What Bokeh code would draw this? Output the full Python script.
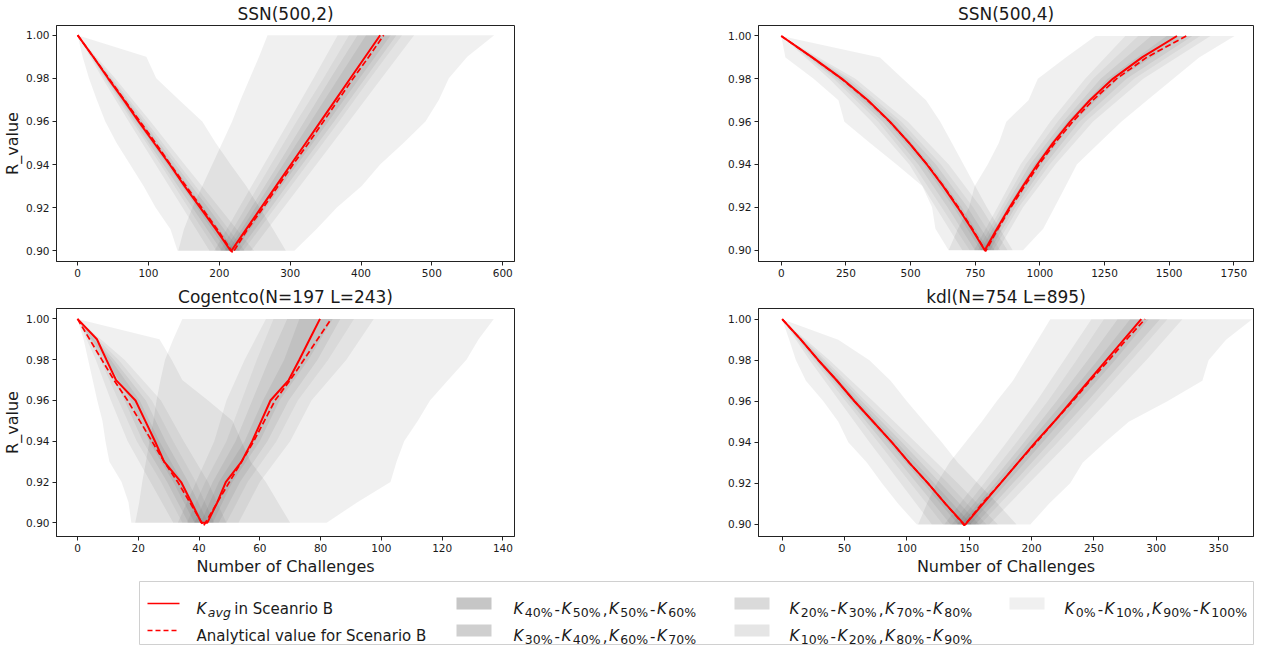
from bokeh.plotting import figure
from bokeh.layouts import column, row
from bokeh.models import Range1d, FixedTicker, PrintfTickFormatter
from bokeh.core.properties import value
from bokeh.embed import file_html
from bokeh.resources import INLINE

# ---------------------------------------------------------------- data
LEVELS_DOWN = [1.00, 0.99, 0.98, 0.97, 0.96, 0.95, 0.94, 0.93, 0.92, 0.91, 0.90]
LEVELS_UP = [0.90, 0.91, 0.92, 0.93, 0.94, 0.95, 0.96, 0.97, 0.98, 0.99, 1.00]
COARSE_DOWN = [1.00, 0.98, 0.96, 0.94, 0.92, 0.90]
COARSE_UP = [0.90, 0.92, 0.94, 0.96, 0.98, 1.00]
Y_TICKS = [0.90, 0.92, 0.94, 0.96, 0.98, 1.00]

TITLES = ["SSN(500,2)", "SSN(500,4)", "Cogentco(N=197 L=243)", "kdl(N=754 L=895)"]
X_LABEL = "Number of Challenges"
Y_LABEL = "R_value"

# ---- SSN(500,2)
A_X_TICKS = [0, 100, 200, 300, 400, 500, 600]
A_AVG_DOWN = [0, 22, 43, 65, 86, 108, 130, 151, 173, 195, 216]
A_AVG_UP = [217, 238, 259, 280, 301, 322, 343, 364, 385, 406, 427]
A_ANA_X = [0, 22, 44, 66, 88, 110, 131, 153, 175, 197, 219, 240, 262, 283, 304, 326, 347, 368, 389, 411, 432]
A_ANA_Y = [1.00, 0.99, 0.98, 0.97, 0.96, 0.95, 0.94, 0.93, 0.92, 0.91, 0.899,
           0.91, 0.92, 0.93, 0.94, 0.95, 0.96, 0.97, 0.98, 0.99, 1.00]
A_DOWN_MIN = [0, 7, 16, 27, 39, 55, 74, 93, 110, 131, 141]
A_DOWN_MAX = [0, 97, 111, 143, 176, 195, 216, 238, 257, 276, 294]
A_UP_MIN = [142, 150, 162, 176, 190, 204, 218, 230, 243, 256, 268]
A_UP_MAX = [306, 337, 366, 401, 427, 460, 491, 510, 524, 550, 588]
A_DOWN_Q = [  # K10 K20 K30 K40 | K60 K70 K80 K90  (at COARSE_DOWN)
    [0, 35, 72, 110, 148, 186],
    [0, 38, 77, 117, 156, 196],
    [0, 40, 80, 121, 162, 203],
    [0, 41, 83, 126, 168, 210],
    [0, 45, 90, 134, 178, 222],
    [0, 47, 93, 138, 184, 229],
    [0, 49, 97, 143, 190, 236],
    [0, 53, 103, 151, 200, 249],
]
A_UP_Q = [  # at COARSE_UP
    [193, 228, 263, 298, 333, 367],
    [201, 237, 273, 309, 347, 383],
    [207, 245, 283, 320, 357, 395],
    [212, 251, 290, 329, 368, 407],
    [222, 266, 310, 354, 398, 442],
    [228, 273, 317, 362, 406, 450],
    [234, 279, 324, 369, 413, 458],
    [245, 291, 337, 383, 429, 475],
]

# ---- SSN(500,4)
B_X_TICKS = [0, 250, 500, 750, 1000, 1250, 1500, 1750]
B_AVG_DOWN = [0, 120, 235, 335, 420, 495, 563, 625, 682, 736, 787]
B_AVG_UP = [787, 834, 883, 935, 990, 1050, 1117, 1193, 1282, 1395, 1530]
B_ANA_X = [0, 119, 233, 333, 419, 495, 564, 627, 685, 739, 790, 838, 888, 941, 997, 1058, 1127, 1205, 1296, 1413, 1566]
B_ANA_Y = [1.00, 0.99, 0.98, 0.97, 0.96, 0.95, 0.94, 0.93, 0.92, 0.91, 0.8995,
           0.91, 0.92, 0.93, 0.94, 0.95, 0.96, 0.97, 0.98, 0.99, 1.00]
B_DOWN_MIN = [0, 16, 125, 221, 244, 343, 446, 545, 583, 596, 647]
B_DOWN_MAX = [0, 382, 470, 560, 615, 660, 705, 750, 795, 845, 895]
B_UP_MIN = [647, 683, 726, 748, 798, 841, 870, 956, 992, 1100, 1215]
B_UP_MAX = [935, 1013, 1057, 1100, 1143, 1229, 1315, 1415, 1516, 1616, 1753]
B_DOWN_Q = [
    [0, 185, 350, 495, 597, 700],
    [0, 203, 375, 510, 620, 728],
    [0, 215, 392, 530, 643, 749],
    [0, 226, 408, 550, 666, 771],
    [0, 244, 432, 578, 698, 803],
    [0, 255, 448, 598, 720, 825],
    [0, 268, 465, 618, 742, 847],
    [0, 287, 490, 648, 772, 875],
]
B_UP_Q = [
    [745, 836, 925, 1040, 1175, 1330],
    [760, 851, 945, 1068, 1205, 1380],
    [770, 864, 962, 1090, 1235, 1430],
    [780, 875, 978, 1105, 1262, 1490],
    [798, 893, 1004, 1132, 1305, 1560],
    [808, 905, 1020, 1152, 1335, 1590],
    [820, 918, 1038, 1176, 1365, 1620],
    [838, 935, 1060, 1205, 1400, 1660],
]

# ---- Cogentco(N=197 L=243)
C_X_TICKS = [0, 20, 40, 60, 80, 100, 120, 140]
C_AVG_DOWN = [0, 6.4, 9.5, 12.7, 19.1, 22.3, 25.5, 28.5, 34.1, 37.5, 40.8]
C_AVG_UP = [42.7, 46, 48.8, 54, 57.5, 60.5, 63.5, 69.5, 73, 76.4, 79.8]
C_ANA_X = [0, 4, 8, 12, 16.5, 20.5, 24.5, 28.5, 33, 37, 41.5, 46, 50, 54, 58, 61.5, 65, 70, 74.5, 79, 83.5]
C_ANA_Y = [1.00, 0.99, 0.98, 0.97, 0.96, 0.95, 0.94, 0.93, 0.92, 0.91, 0.8985,
           0.91, 0.92, 0.93, 0.94, 0.95, 0.96, 0.97, 0.98, 0.99, 1.00]
C_DOWN_MIN = [0, 2, 3.5, 5, 6.5, 8.2, 9.2, 10.5, 14.5, 16.8, 17.7]
C_DOWN_MAX = [0, 27, 31, 34.5, 43, 51, 54, 57, 62, 66, 70]
C_UP_MIN = [19, 20.3, 21.3, 22.5, 23.7, 25, 26, 27.3, 28.8, 31.5, 34.5]
C_UP_MAX = [82, 92, 103, 105, 107.5, 112, 116, 122, 128, 132, 137]
C_DOWN_Q = [
    [0, 6, 11, 16.5, 24, 31.5],
    [0, 7.5, 13.5, 19.5, 27.5, 34.5],
    [0, 8.5, 15.5, 21.5, 29.5, 36.5],
    [0, 9.5, 17.5, 23.5, 31.5, 38.5],
    [0, 11, 20.5, 27, 34.5, 41.5],
    [0, 12, 22.5, 29, 36.5, 43],
    [0, 13.5, 24.5, 31.5, 39, 45],
    [0, 15.5, 27.5, 35, 43, 49],
]
C_UP_Q = [
    [33, 39, 45, 49, 55, 62],
    [36, 42, 49, 54, 59, 64.5],
    [38.5, 44.5, 52, 57.5, 63, 69],
    [40.5, 46.5, 55, 61, 68, 73],
    [44.5, 51, 60, 66.5, 76, 84],
    [46.5, 53.5, 62.5, 69.5, 79, 86.5],
    [49, 56, 65.5, 72.5, 82.5, 91],
    [53, 60, 70, 77, 88.5, 97.5],
]

# ---- kdl(N=754 L=895)
D_X_TICKS = [0, 50, 100, 150, 200, 250, 300, 350]
D_AVG_DOWN = [0, 15, 29, 44, 58, 73, 88, 102, 117, 131, 146]
D_AVG_UP = [147, 161, 175, 189, 203, 218, 232, 246, 260, 274, 288]
D_ANA_X = [0, 15, 29, 44, 58, 73, 88, 102, 117, 131, 146, 160, 175, 189, 204, 218, 233, 247, 262, 276, 291]
D_ANA_Y = [1.00, 0.99, 0.98, 0.97, 0.96, 0.95, 0.94, 0.93, 0.92, 0.91, 0.8995,
           0.91, 0.92, 0.93, 0.94, 0.95, 0.96, 0.97, 0.98, 0.99, 1.00]
D_DOWN_MIN = [0, 5.6, 11, 19, 33, 45, 53, 68, 80, 93, 108]
D_DOWN_MAX = [0, 45, 70, 87, 100, 114, 128, 141, 157, 173, 188]
D_UP_MIN = [109, 116, 124, 134, 147, 160, 172, 185, 195, 205, 215]
D_UP_MAX = [199, 214, 231, 241, 259, 278, 309, 337, 342, 356, 377]
D_DOWN_Q = [
    [0, 22, 46, 70, 95, 120],
    [0, 25, 51, 77, 103, 129],
    [0, 27, 54, 81, 108, 135],
    [0, 28, 56, 85, 113, 141],
    [0, 31, 61, 92, 122, 152],
    [0, 33, 64, 96, 127, 158],
    [0, 35, 67, 100, 133, 164],
    [0, 38, 73, 107, 141, 173],
]
D_UP_Q = [
    [130, 155, 180, 204, 226, 248],
    [136, 162, 188, 213, 236, 258],
    [140, 167, 194, 220, 245, 269],
    [143, 171, 198, 226, 253, 279],
    [151, 180, 209, 238, 267, 294],
    [155, 185, 215, 245, 274, 303],
    [159, 190, 221, 251, 280, 309],
    [166, 198, 230, 261, 292, 321],
]

LEGEND_AVG = [("K", "it"), ("avg", "subit"), (" in Sceanrio B", "n")]
LEGEND_ANA = [("Analytical value for Scenario B", "n")]
BAND_PERCENTS = [
    ("40%", "50%", "50%", "60%"),
    ("30%", "40%", "60%", "70%"),
    ("20%", "30%", "70%", "80%"),
    ("10%", "20%", "80%", "90%"),
    ("0%", "10%", "90%", "100%"),
]

# ---------------------------------------------------------------- style
FONT = "DejaVu Sans"
TXT = "#1a1a1a"
RED = "#ff0000"
LAYER_ALPHA = [0.059, 0.05, 0.044, 0.055, 0.053]   # outer .. inner nested layers
BAND_COLORS = ["#c6c6c6", "#cfcfcf", "#dadada", "#e5e5e5", "#f0f0f0"]


def draw_branch(p, lv_fine, lo, hi, lv_coarse, q):
    p.harea(x1=lo, x2=hi, y=lv_fine, fill_color="black", fill_alpha=LAYER_ALPHA[0])
    for i in range(4):
        p.harea(x1=q[i], x2=q[7 - i], y=lv_coarse, fill_color="black",
                fill_alpha=LAYER_ALPHA[i + 1])


def make_panel(title, xr, yr, xticks, size, borders, d, xlabel=None, ylabel=None):
    w, h = size
    bl, br, bt, bb = borders
    p = figure(width=w, height=h, x_range=Range1d(*xr), y_range=Range1d(*yr),
               toolbar_location=None, output_backend="svg", title=title,
               min_border_left=bl, min_border_right=br, min_border_top=bt,
               min_border_bottom=bb)
    p.title.text_font = FONT
    p.title.text_font_size = "17px"
    p.title.text_font_style = "normal"
    p.title.text_color = TXT
    p.title.align = "center"
    p.title.standoff = 3
    p.xgrid.visible = False
    p.ygrid.visible = False
    p.outline_line_color = "#222222"
    p.outline_line_width = 1
    p.background_fill_color = "white"
    p.border_fill_color = "white"

    draw_branch(p, LEVELS_DOWN, d["down_min"], d["down_max"], COARSE_DOWN, d["down_q"])
    draw_branch(p, LEVELS_UP, d["up_min"], d["up_max"], COARSE_UP, d["up_q"])

    p.line(x=d["avg_down"] + d["avg_up"], y=LEVELS_DOWN + LEVELS_UP,
           line_color=RED, line_width=2)
    p.line(x=d["ana_x"], y=d["ana_y"], line_color=RED, line_width=1.7,
           line_dash="6 3")

    p.xaxis.ticker = FixedTicker(ticks=xticks)
    p.yaxis.ticker = FixedTicker(ticks=Y_TICKS)
    p.yaxis.formatter = PrintfTickFormatter(format="%.2f")
    for ax in (p.xaxis[0], p.yaxis[0]):
        ax.axis_line_color = "#222222"
        ax.major_tick_line_color = "#222222"
        ax.major_tick_in = 0
        ax.major_tick_out = 4
        ax.minor_tick_line_color = None
        ax.major_label_text_font = FONT
        ax.major_label_text_font_size = "10.5px"
        ax.major_label_text_color = TXT
        ax.major_label_standoff = 3
        ax.axis_label_text_font = FONT
        ax.axis_label_text_font_size = "16px"
        ax.axis_label_text_font_style = "normal"
        ax.axis_label_text_color = TXT
        ax.axis_label_standoff = 2
    if xlabel:
        p.xaxis.axis_label = xlabel
    if ylabel:
        p.yaxis.axis_label = ylabel
        p.yaxis.axis_label_standoff = 1
    return p


def pack(avg_down, avg_up, ana_x, ana_y, dmin, dmax, umin, umax, dq, uq):
    return dict(avg_down=avg_down, avg_up=avg_up, ana_x=ana_x, ana_y=ana_y,
                down_min=dmin, down_max=dmax, up_min=umin, up_max=umax,
                down_q=dq, up_q=uq)


LEFT_W, RIGHT_W = 692, 562
LEFT_B = (49, 178)
RIGHT_B = (66, 1)
ROW1_H, ROW2_H = 283, 295

pA = make_panel(TITLES[0], (-29.8, 616.6), (0.895, 1.0045), A_X_TICKS, (LEFT_W, ROW1_H),
                LEFT_B + (23, 22),
                pack(A_AVG_DOWN, A_AVG_UP, A_ANA_X, A_ANA_Y, A_DOWN_MIN, A_DOWN_MAX,
                     A_UP_MIN, A_UP_MAX, A_DOWN_Q, A_UP_Q), ylabel=Y_LABEL)
pB = make_panel(TITLES[1], (-88, 1826), (0.8947, 1.0049), B_X_TICKS, (RIGHT_W, ROW1_H),
                RIGHT_B + (23, 22),
                pack(B_AVG_DOWN, B_AVG_UP, B_ANA_X, B_ANA_Y, B_DOWN_MIN, B_DOWN_MAX,
                     B_UP_MIN, B_UP_MAX, B_DOWN_Q, B_UP_Q))
pC = make_panel(TITLES[2], (-6.9, 143.8), (0.8933, 1.0051), C_X_TICKS, (LEFT_W, ROW2_H),
                LEFT_B + (20, 42),
                pack(C_AVG_DOWN, C_AVG_UP, C_ANA_X, C_ANA_Y, C_DOWN_MIN, C_DOWN_MAX,
                     C_UP_MIN, C_UP_MAX, C_DOWN_Q, C_UP_Q), xlabel=X_LABEL, ylabel=Y_LABEL)
pD = make_panel(TITLES[3], (-19, 378), (0.8941, 1.0052), D_X_TICKS, (RIGHT_W, ROW2_H),
                RIGHT_B + (20, 42),
                pack(D_AVG_DOWN, D_AVG_UP, D_ANA_X, D_ANA_Y, D_DOWN_MIN, D_DOWN_MAX,
                     D_UP_MIN, D_UP_MAX, D_DOWN_Q, D_UP_Q), xlabel=X_LABEL)

# ---------------------------------------------------------------- legend
CHAR_W = {'K': 0.656, 'a': 0.613, 'v': 0.592, 'g': 0.635, ' ': 0.318, 'i': 0.278,
          'n': 0.634, 'S': 0.635, 'c': 0.550, 'e': 0.615, 'r': 0.411, 'o': 0.612,
          'B': 0.686, 'A': 0.684, 'l': 0.278, 'y': 0.592, 't': 0.392, 'u': 0.634,
          'f': 0.352, '%': 0.950, '-': 0.361, ',': 0.318}
for dgt in "0123456789":
    CHAR_W[dgt] = 0.636
MAIN_SIZE = 15.0
SUB_SIZE = 12.5
SUB_DROP = 3.0
GAP_AFTER = {"it": 1.5, "sub": 2.0, "subit": 3.5, "p": 1.5, "n": 0.0}

LEG_TOP = 8 + ROW1_H + ROW2_H
LEG_BOTTOM = 654
leg = figure(width=1254, height=LEG_BOTTOM - LEG_TOP,
             x_range=Range1d(8, 1262), y_range=Range1d(LEG_BOTTOM, LEG_TOP),
             toolbar_location=None, output_backend="svg", min_border=0,
             x_axis_location=None, y_axis_location=None)
leg.grid.visible = False
leg.outline_line_color = None
leg.border_fill_color = "white"

leg.quad(left=[147], right=[1261], top=[589], bottom=[652], fill_color="white",
         line_color="#d0d0d0", line_width=1)

ROW_Y = [611, 638]
pieces = {}


def place(segments, x0, yc):
    x = x0
    base = yc + 5.5
    for s, kind in segments:
        sub = kind.startswith("sub")
        size = SUB_SIZE if sub else MAIN_SIZE
        style = "italic" if kind.endswith("it") else "normal"
        y = base + SUB_DROP if sub else base
        pieces.setdefault((size, style), []).append((x, y, s))
        x += sum(CHAR_W[c] for c in s) * size + GAP_AFTER[kind]


def band_segments(pc):
    a, b, c, dd = pc
    return [("K", "it"), (a, "sub"), ("-", "p"), ("K", "it"), (b, "sub"), (",", "p"),
            ("K", "it"), (c, "sub"), ("-", "p"), ("K", "it"), (dd, "sub")]


# column 1: line entries
leg.line(x=[155, 187], y=[ROW_Y[0], ROW_Y[0]], line_color=RED, line_width=1.6)
leg.line(x=[155, 187], y=[ROW_Y[1], ROW_Y[1]], line_color=RED, line_width=1.6,
         line_dash="5 3")
place(LEGEND_AVG, 204, ROW_Y[0])
place(LEGEND_ANA, 204, ROW_Y[1])

# band entries, filled column-wise
COL_X = [(464, 499, 521), (742, 777, 797), (1017, 1052, 1072)]
for k, pc in enumerate(BAND_PERCENTS):
    col, r = divmod(k, 2)
    px0, px1, tx = COL_X[col]
    yc = ROW_Y[r]
    leg.quad(left=[px0], right=[px1], top=[yc - 6], bottom=[yc + 6],
             fill_color=BAND_COLORS[k], line_color=None)
    place(band_segments(pc), tx, yc)

for (size, style), items in pieces.items():
    leg.text(x=[it[0] for it in items], y=[it[1] for it in items],
             text=[it[2] for it in items], text_font=value(FONT),
             text_font_size=f"{size}px", text_font_style=style,
             text_color=TXT, text_baseline="alphabetic", text_align="left")

layout = column(row(pA, pB), row(pC, pD), leg)
open("out.html", "w").write(file_html(layout, INLINE))
